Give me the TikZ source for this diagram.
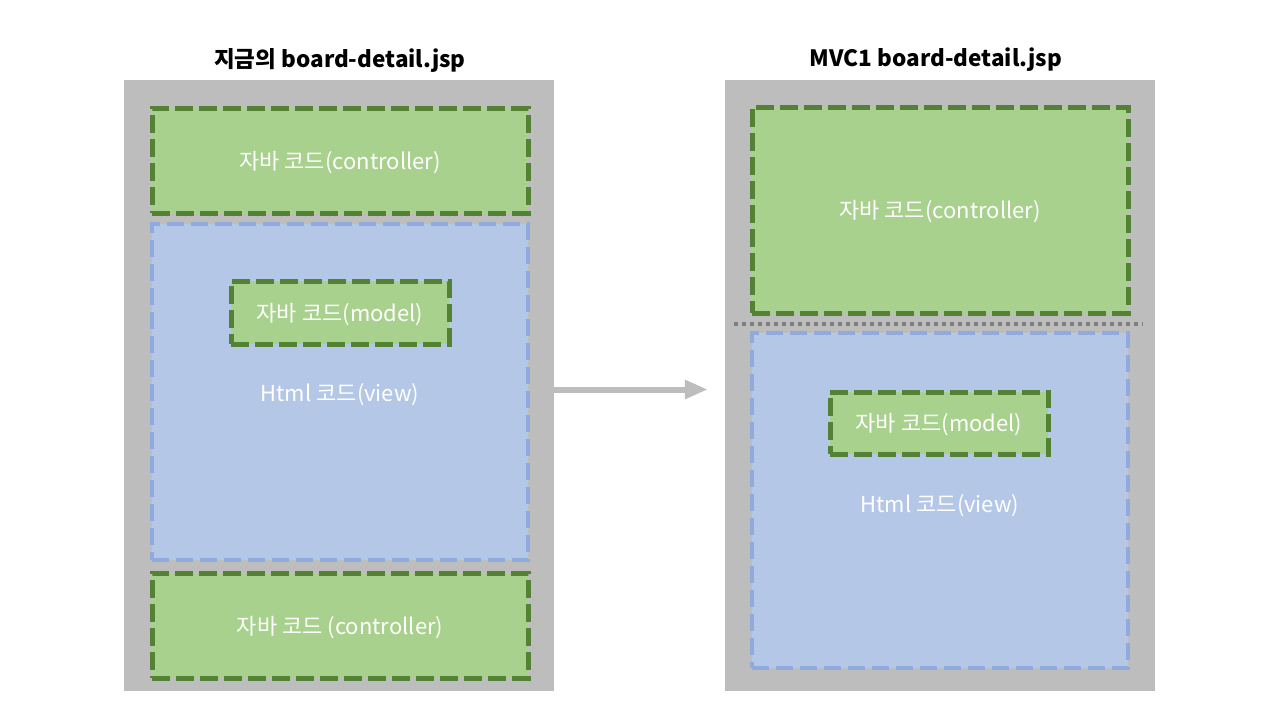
\documentclass[tikz,border=0pt]{standalone}
\usepackage{fontspec}
\setmainfont{Noto Sans CJK KR}
\usetikzlibrary{arrows.meta, positioning, calc}
\definecolor{panelgray}{HTML}{BDBDBD}
\definecolor{codegreen}{HTML}{A9D18E}
\definecolor{codegreenline}{HTML}{548235}
\definecolor{viewblue}{HTML}{B4C7E7}
\definecolor{viewblueline}{HTML}{8FAADC}
\definecolor{sepgray}{HTML}{7F7F7F}

\begin{document}
\begin{tikzpicture}[
  x=1pt, y=-1pt,
  panel/.style={fill=panelgray, draw=none, inner sep=0pt},
  title/.style={font=\fontsize{22.5}{26}\selectfont\bfseries, text=black},
  javabox/.style={draw=codegreenline, fill=codegreen, line width=5pt, dash pattern=on 18pt off 6pt, inner sep=0pt},
  viewbox/.style={draw=viewblueline, fill=viewblue, line width=4.5pt, dash pattern=on 17pt off 7pt, inner sep=0pt},
  lbl/.style={font=\fontsize{22}{26}\selectfont, text=white, yshift=-2pt},
]
  \useasboundingbox (0,0) rectangle (1280,720);

  % left: current page
  \node[panel, minimum width=430pt, minimum height=611pt] (lpanel) at (339,385.5) {};
  \node[title] (ltitle) at (340,60) {지금의 board-detail.jsp};
  \node[javabox, minimum width=376pt, minimum height=105pt] (lctrl) at (340,160.5) {};
  \node[lbl] at (lctrl) {자바 코드(controller)};
  \node[viewbox, minimum width=376pt, minimum height=336pt] (lview) at (340,392) {};
  \node[javabox, minimum width=218pt, minimum height=63pt] (lmodel) at (340,312.5) {};
  \node[lbl] at (lmodel) {자바 코드(model)};
  \node[lbl] (lhtml) at (340,393) {Html 코드(view)};
  \node[javabox, minimum width=376pt, minimum height=105pt] (lctrlb) at (340,625.5) {};
  \node[lbl] at (lctrlb) {자바 코드 (controller)};

  % right: mvc1 page
  \node[panel, minimum width=430pt, minimum height=611pt] (rpanel) at (940,385.5) {};
  \node[title] (rtitle) at (936,60) {MVC1 board-detail.jsp};
  \node[javabox, minimum width=376pt, minimum height=206pt] (rctrl) at (940,210) {};
  \node[lbl] at (rctrl) {자바 코드(controller)};
  \coordinate (sepl) at (734,324);
  \coordinate (sepr) at (1143,324);
  \draw[sepgray, line width=4pt, dash pattern=on 4pt off 4pt] (sepl) -- (sepr);
  \node[viewbox, minimum width=376pt, minimum height=335pt] (rview) at (940,500.5) {};
  \node[javabox, minimum width=218pt, minimum height=62pt] (rmodel) at (939,423) {};
  \node[lbl] at (rmodel) {자바 코드(model)};
  \node[lbl] (rhtml) at (940,504) {Html 코드(view)};

  \draw[panelgray, line width=6pt, -{Triangle[length=23pt, width=18pt]}, shorten >=17pt]
    ([yshift=-4pt]lpanel.east) -- ([yshift=-4pt]rpanel.west);
\end{tikzpicture}
\end{document}
